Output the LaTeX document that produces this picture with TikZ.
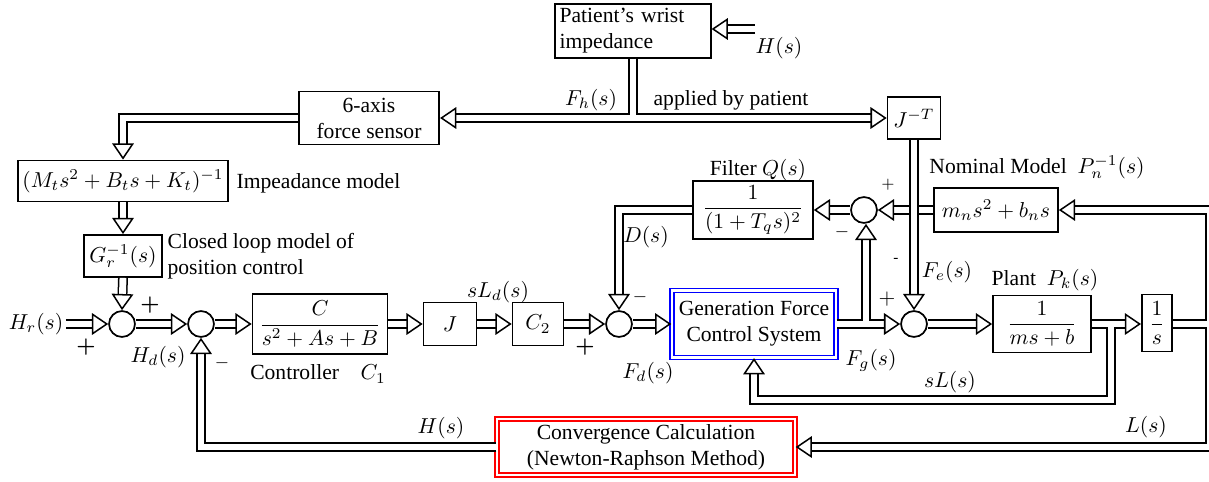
\documentclass[tikz,border=0pt]{standalone}
\usepackage[no-math]{fontspec}
\setmainfont{Liberation Serif}
\usepackage{amsmath,bm}
\usetikzlibrary{arrows.meta}

\tikzset{
  blk/.style={draw, line width=0.8pt, inner sep=2pt, align=center, fill=white},
  sumj/.style={draw, line width=0.8pt, circle, minimum size=12pt, inner sep=0pt},
  dbl/.style={double, double distance=3.2pt, line width=0.7pt,
    >={Triangle[open, length=7.5pt, width=10pt, line width=0.7pt]}},
  lbl/.style={inner sep=1pt}
}

\begin{document}
\begin{tikzpicture}[x=0.463pt, y=-0.463pt]
\useasboundingbox (0,0) rectangle (1209,481);

% Blocks of the upper part
\node[blk, text width=68pt, align=left, minimum height=22.7pt] (patient) at (633,31) {Patient's wrist\\impedance};
\node[blk, minimum width=65pt, minimum height=24.5pt] (sensor) at (369,118) {6-axis\\force sensor};
\node[blk, minimum width=24.5pt, minimum height=19.5pt] (jt) at (914,118) {$J^{-T}$};
\node[blk, minimum width=95pt, minimum height=19pt] (imp) at (123,181) {$(M_ts^2+B_ts+K_t)^{-1}$};
\node[blk, minimum width=36pt, minimum height=19.5pt] (G) at (123,256) {$G_r^{-1}(s)$};
\node[blk, minimum width=55.5pt, minimum height=26pt] (filter) at (753,210) {$\dfrac{1}{(1+T_qs)^2}$};
\node[blk, minimum width=57.4pt, minimum height=20.4pt] (nom) at (996,210) {$m_ns^2+b_ns$};
\node[sumj] (sum5) at (864,210) {};

% Main row
\node[sumj] (sum1) at (122,324) {};
\node[sumj] (sum2) at (201,324) {};
\node[blk, minimum width=62.5pt, minimum height=28pt] (ctrl) at (320,324) {$\dfrac{C}{s^2+As+B}$};
\node[blk, minimum width=24.5pt, minimum height=20pt] (J) at (450,324) {$J$};
\node[blk, minimum width=23.6pt, minimum height=20pt] (C2) at (538,324) {$C_2$};
\node[sumj] (sum3) at (619,324) {};
\node[blk, draw=blue, double=white, double distance=1.2pt, line width=0.6pt,
  minimum width=76pt, minimum height=31pt] (gen) at (754,324) {Generation Force\\Control System};
\node[sumj] (sum4) at (914,324) {};
\node[blk, minimum width=45.4pt, minimum height=26.4pt] (plant) at (1042,324) {$\dfrac{1}{ms+b}$};
\node[blk, minimum width=14pt, minimum height=26.4pt, inner sep=1pt] (int) at (1157,323) {$\dfrac{1}{s}$};
\node[blk, draw=red, double=white, double distance=1.2pt, line width=0.6pt,
  minimum width=138pt, minimum height=26pt] (conv) at (646,447) {Convergence Calculation\\(Newton-Raphson Method)};

% Free ends and branch points
\coordinate (hin) at (755,29);
\coordinate (slb) at (1111,400);
\coordinate (re) at (1210,324);
\coordinate (tsplit) at (633,118);
\coordinate (gsplit) at (866,324);
\coordinate (psplit) at (1111,324);

% Labels
\node[lbl] (lhs) at (779,48) {$H(s)$};
\node[lbl] (lfh) at (591,100) {$F_h(s)$};
\node[lbl] (lap) at (731,100) {applied by patient};
\node[lbl, anchor=west] (limp) at (234,183) {Impeadance model};
\node[lbl, anchor=west, align=left] (lclm) at (165,256) {Closed loop model of\\position control};
\node[lbl] (lhr) at (36,324) {$H_r(s)$};
\node[lbl] (lp1) at (150,305) {$\bm{+}$};
\node[lbl] (lp2) at (86,347) {$\bm{+}$};
\node[lbl] (lhd) at (158,357) {$H_d(s)$};
\node[lbl] (lm2) at (222,363) {\footnotesize$-$};
\node[lbl] (lctrl) at (318,374) {Controller\quad $C_1$};
\node[lbl] (lsld) at (498,292) {$sL_d(s)$};
\node[lbl] (lp3) at (585,347) {$\bm{+}$};
\node[lbl] (lm3) at (640,297) {\footnotesize$-$};
\node[lbl] (ld) at (646,237) {$D(s)$};
\node[lbl] (lfd) at (648,373) {$F_d(s)$};
\node[lbl] (lfilt) at (758,170) {Filter $Q(s)$};
\node[lbl] (lnom) at (1037,167) {Nominal Model\enspace $P_n^{-1}(s)$};
\node[lbl] (lp5) at (888,185) {\scriptsize$+$};
\node[lbl] (lm5) at (842,232) {\footnotesize$-$};
\node[lbl] (lm4) at (896,260) {\scriptsize-};
\node[lbl] (lp4) at (887,299) {$+$};
\node[lbl] (lfe) at (947,272) {$F_e(s)$};
\node[lbl] (lfg) at (871,360) {$F_g(s)$};
\node[lbl] (lplant) at (1045,280) {Plant\enspace $P_k(s)$};
\node[lbl] (lsl) at (950,382) {$sL(s)$};
\node[lbl] (lls) at (1146,427) {$L(s)$};
\node[lbl] (lhs2) at (441,428) {$H(s)$};

% Upper connectors
\draw[dbl,->] (hin) -- (hin -| patient.east);
\draw[dbl,<->] (patient.south) -- (tsplit) (sensor.east) -- (jt.west);
\draw[dbl,->] (sensor.west) -| (imp.north);
\draw[dbl,->] (imp.south) -- (G.north);
\draw[dbl,->] (G.south) -- (sum1.north);

% Main row connectors
\draw[dbl,->] (lhr.east) -- (sum1.west);
\draw[dbl,->] (sum1.east) -- (sum2.west);
\draw[dbl,->] (sum2.east) -- (ctrl.west);
\draw[dbl,->] (ctrl.east) -- (J.west);
\draw[dbl,->] (J.east) -- (C2.west);
\draw[dbl,->] (C2.east) -- (sum3.west);
\draw[dbl,->] (sum3.east) -- (gen.west);
\draw[dbl,->] (filter.west) -| (sum3.north);
\draw[dbl,->] (nom.west) -- (sum5.east);
\draw[dbl,->] (sum5.west) -- (filter.east);
\draw[dbl,<->] (gen.east) -- (gsplit) (sum5.south -| gsplit) -- (gsplit) -- (sum4.west);
\draw[dbl,->] (jt.south) -- (sum4.north);
\draw[dbl,->] (sum4.east) -- (plant.west);
\draw[dbl,<->] (plant.east |- psplit) -- (psplit) (gen.south) |- (slb) -- (psplit) -- (int.west |- psplit);

% Outer feedback
\draw[dbl,<->] (int.east |- re) -- (re) (nom.east) -- (nom.east -| re) -- (re |- conv.east) -- (conv.east);
\draw[dbl,->] (conv.west) -| (sum2.south);
\end{tikzpicture}
\end{document}
